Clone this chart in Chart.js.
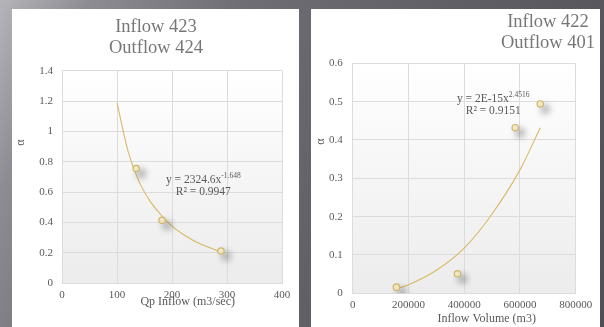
<!DOCTYPE html>
<html>
<head>
<meta charset="utf-8">
<script src="https://cdn.jsdelivr.net/npm/chart.js@4"></script>
<style>
html, body { margin: 0; padding: 0; width: 604px; height: 327px; overflow: hidden; }
body {
    position: relative;
    background: linear-gradient(115deg, #b5b4b9 0%, #8d8c92 12%, #6f6e74 32%, #605f65 60%, #504f55 100%);
}
.panel { position: absolute; top: 9px; bottom: 0; background: #ffffff; }
#left_panel { left: 12px; width: 287px; }
#right_panel { left: 311px; width: 289px; }
canvas { position: absolute; left: 0; top: 0; }
</style>
</head>
<body>
<div class="panel" id="left_panel"><canvas id="left_chart" width="287" height="318"></canvas></div>
<div class="panel" id="right_panel"><canvas id="right_chart" width="289" height="318"></canvas></div>
<script>
// Left chart: alpha vs peak inflow
const qp_inflow = [135, 182, 289];
const alpha_left = [0.755, 0.413, 0.211];
// trendline
const trend_qp = [100, 120, 140, 160, 180, 200, 225, 250, 289];
const trend_alpha_left = [1.19, 0.87, 0.67, 0.54, 0.45, 0.375, 0.31, 0.26, 0.205];

// Right chart: alpha vs inflow volume
const inflow_volume = [157000, 376000, 583000, 673000];
const alpha_right = [0.016, 0.051, 0.432, 0.494];
const trend_volume = [157000, 200000, 300000, 400000, 500000, 600000, 673000];
const trend_alpha_right = [0.012, 0.022, 0.060, 0.118, 0.207, 0.322, 0.432];

const left_title = ["Inflow 423", "Outflow 424"];
const right_title = ["Inflow 422", "Outflow 401"];
const left_x_title = "Qp Inflow (m3/sec)";
const right_x_title = "Inflow Volume (m3)";
const y_title = "α";
const left_equation = ["y = 2324.6x", "-1.648", "R² = 0.9947"];
const right_equation = ["y = 2E-15x", "2.4516", "R² = 0.9151"];

const SERIF = "'Liberation Serif', 'DejaVu Serif', serif";
const TEXT_COLOR = '#595959';
const GRID_COLOR = '#dcdcdc';
const POINT_BORDER = '#cdb56c';
const POINT_FILL = '#f3ebc9';
const TREND_COLOR = '#d7ba63';

Chart.defaults.font.family = SERIF;
Chart.defaults.color = TEXT_COLOR;

function toXY(xs, ys) {
    return xs.map((x, i) => ({x: x, y: ys[i]}));
}

// text drawn straight on the canvas, centred on (x, y), with optional superscript part
const panelTexts = {
    id: 'panelTexts',
    afterDraw(chart, args, opts) {
        const ctx = chart.ctx;
        (opts.items || []).forEach(item => {
            const parts = item.parts || [{text: item.text}];
            ctx.save();
            ctx.fillStyle = item.color;
            ctx.textBaseline = item.baseline || 'alphabetic';
            ctx.textAlign = 'left';
            ctx.translate(item.x, item.y);
            if (item.rotate) ctx.rotate(item.rotate);
            const widths = parts.map(p => {
                ctx.font = (p.sup ? item.supSize : item.size) + 'px ' + SERIF;
                return ctx.measureText(p.text).width;
            });
            let x = -widths.reduce((a, b) => a + b, 0) / 2;
            parts.forEach((p, i) => {
                ctx.font = (p.sup ? item.supSize : item.size) + 'px ' + SERIF;
                ctx.fillText(p.text, x, p.sup ? -item.size * 0.42 : 0);
                x += widths[i];
            });
            ctx.restore();
        });
    }
};

// soft grey plot area like the original
const plotBackground = {
    id: 'plotBackground',
    beforeDraw(chart) {
        const {ctx, chartArea: a} = chart;
        const g = ctx.createLinearGradient(0, a.top, 0, a.bottom);
        g.addColorStop(0, '#ffffff');
        g.addColorStop(1, '#ececec');
        ctx.save();
        ctx.fillStyle = g;
        ctx.fillRect(a.left, a.top, a.right - a.left, a.bottom - a.top);
        ctx.restore();
    }
};

// drop shadow behind the markers (dataset 0 only)
const markerShadow = {
    id: 'markerShadow',
    beforeDatasetDraw(chart, args) {
        if (args.index !== 0) return;
        const ctx = chart.ctx;
        ctx.save();
        ctx.shadowColor = 'rgba(0, 0, 0, 0.38)';
        ctx.shadowBlur = 7;
        ctx.shadowOffsetX = 5;
        ctx.shadowOffsetY = 5;
    },
    afterDatasetDraw(chart, args) {
        if (args.index !== 0) return;
        chart.ctx.restore();
    }
};

function fixAxis(size, horizontal) {
    return scale => {
        if (horizontal) scale.height = size; else scale.width = size;
        scale.paddingLeft = scale.paddingRight = scale.paddingTop = scale.paddingBottom = 0;
    };
}

function makeChart(canvas_id, cfg) {
    return new Chart(canvas_id, {
        type: 'scatter',
        data: {
            datasets: [
                {
                    label: 'observed',
                    data: toXY(cfg.xs, cfg.ys),
                    pointRadius: 3.2,
                    borderWidth: 1.2,
                    borderColor: POINT_BORDER,
                    backgroundColor: POINT_FILL
                },
                {
                    label: 'trend',
                    data: toXY(cfg.trend_x, cfg.trend_y),
                    showLine: true,
                    pointRadius: 0,
                    borderWidth: 1.1,
                    borderColor: TREND_COLOR,
                    cubicInterpolationMode: 'monotone'
                }
            ]
        },
        options: {
            responsive: false,
            animation: false,
            events: [],
            layout: { padding: cfg.padding },
            plugins: {
                legend: { display: false },
                tooltip: { enabled: false },
                panelTexts: { items: cfg.texts }
            },
            scales: {
                x: {
                    type: 'linear',
                    min: 0,
                    max: cfg.x_max,
                    afterFit: fixAxis(cfg.x_height, true),
                    ticks: {
                        stepSize: cfg.x_step,
                        padding: cfg.x_tick_pad,
                        maxRotation: 0,
                        font: { size: 11 },
                        format: { useGrouping: false, minimumFractionDigits: 0 }
                    },
                    grid: { color: GRID_COLOR, drawTicks: false },
                    border: { color: GRID_COLOR }
                },
                y: {
                    min: 0,
                    max: cfg.y_max,
                    afterFit: fixAxis(cfg.y_width, false),
                    ticks: {
                        stepSize: cfg.y_step,
                        padding: cfg.y_tick_pad,
                        font: { size: 11 },
                        format: { minimumFractionDigits: 0 }
                    },
                    grid: { color: GRID_COLOR, drawTicks: false },
                    border: { color: GRID_COLOR }
                }
            }
        },
        plugins: [plotBackground, markerShadow, panelTexts]
    });
}

function titleItems(lines, cx, y1, y2) {
    return [
        {text: lines[0], x: cx, y: y1, size: 18.5, color: '#777777'},
        {text: lines[1], x: cx, y: y2, size: 18.5, color: '#777777'}
    ];
}

function equationItems(eq, cx, y1, y2) {
    return [
        {parts: [{text: eq[0]}, {text: eq[1], sup: true}], x: cx, y: y1, size: 11.5, supSize: 7.5, color: TEXT_COLOR},
        {text: eq[2], x: cx, y: y2, size: 11.5, color: TEXT_COLOR}
    ];
}

makeChart('left_chart', {
    xs: qp_inflow, ys: alpha_left,
    trend_x: trend_qp, trend_y: trend_alpha_left,
    x_max: 400, x_step: 100, y_max: 1.4, y_step: 0.2,
    padding: {top: 61.7, right: 17, bottom: 0, left: 0},
    y_width: 50, x_height: 44, y_tick_pad: 9, x_tick_pad: 6,
    texts: [].concat(
        titleItems(left_title, 144, 23.3, 43.8),
        equationItems(left_equation, 191.3, 174, 186),
        [
            {text: left_x_title, x: 175.7, y: 293.3, size: 12, color: TEXT_COLOR, baseline: 'middle'},
            {text: y_title, x: 8.7, y: 133.7, size: 12, color: TEXT_COLOR, baseline: 'middle', rotate: -Math.PI / 2}
        ]
    )
});

makeChart('right_chart', {
    xs: inflow_volume, ys: alpha_right,
    trend_x: trend_volume, trend_y: trend_alpha_right,
    x_max: 800000, x_step: 200000, y_max: 0.6, y_step: 0.1,
    padding: {top: 54.3, right: 24.3, bottom: 0, left: 0},
    y_width: 41.7, x_height: 33.7, y_tick_pad: 10, x_tick_pad: 5,
    texts: [].concat(
        titleItems(right_title, 237, 17.7, 39.3),
        equationItems(right_equation, 182.2, 92.7, 105),
        [
            {text: right_x_title, x: 175.7, y: 310.3, size: 12, color: TEXT_COLOR, baseline: 'middle'},
            {text: y_title, x: 9.7, y: 132.7, size: 12, color: TEXT_COLOR, baseline: 'middle', rotate: -Math.PI / 2}
        ]
    )
});
</script>
</body>
</html>
